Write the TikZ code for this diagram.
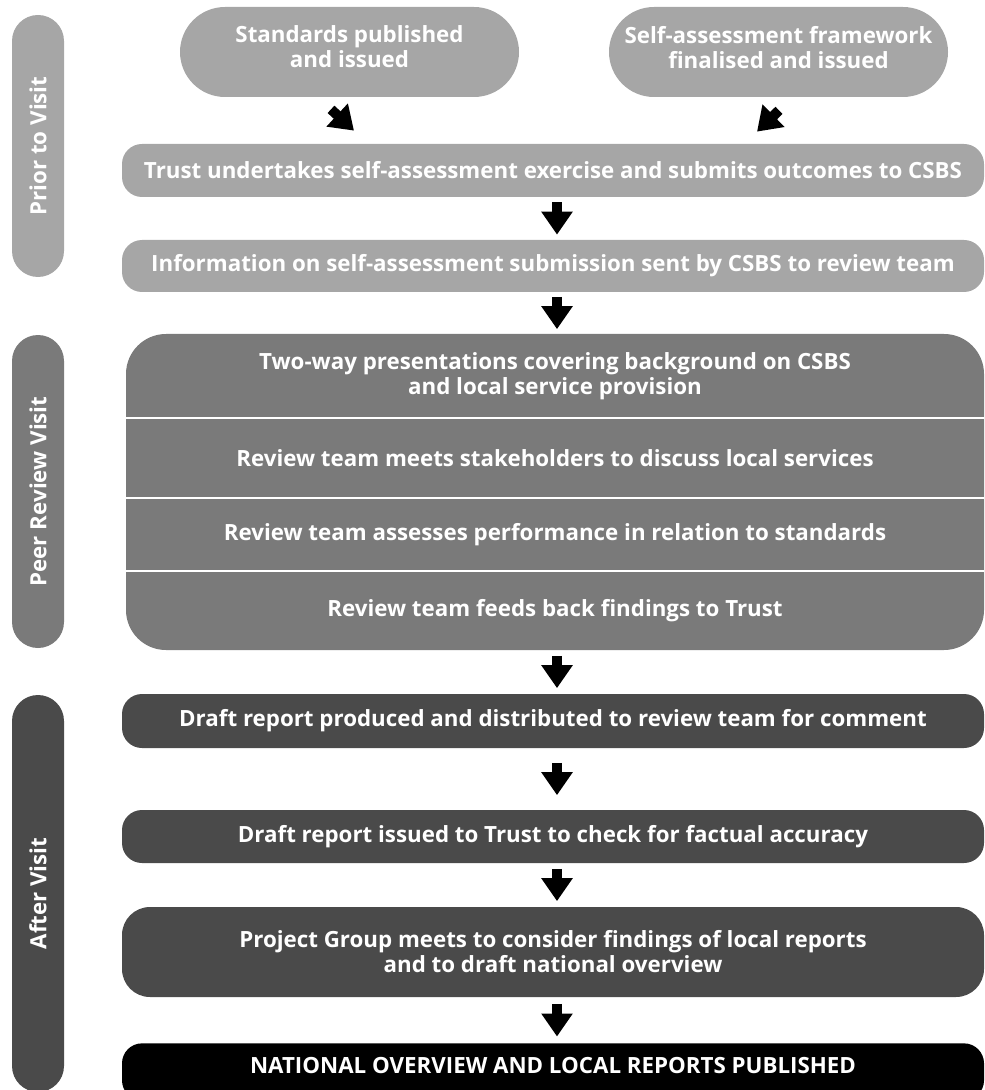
\documentclass[tikz,border=0pt]{standalone}
\usepackage{fontspec}
\setmainfont{Open Sans}
\usetikzlibrary{arrows.meta,calc}
\definecolor{prior}{HTML}{A6A6A6}
\definecolor{peer}{HTML}{7A7A7A}
\definecolor{after}{HTML}{4A4A4A}

\begin{document}
\begin{tikzpicture}[
    boxtext/.style={font=\bfseries\fontsize{12.7}{14.2}\selectfont, text=white, align=center, inner sep=0pt},
    stage/.style={boxtext, rounded corners=0.52cm, minimum height=1.04cm, rotate=90},
    box/.style={boxtext, rounded corners=0.4cm, minimum width=17.24cm},
    flow/.style={line width=0.2cm, -{Triangle[length=0.46cm,width=0.6cm]}},
    gap/.style={shorten <=#1, shorten >=#1}
  ]
    \useasboundingbox (0,0) rectangle (19.68,-21.8);
    \clip (0,0) rectangle (19.68,-21.8);

    \node[stage, fill=prior, minimum width=5.24cm] (prior) at (0.76,-2.92) {Prior to Visit};
    \node[stage, fill=peer, minimum width=6.26cm] (peerbar) at (0.76,-9.83) {Peer Review Visit};
    \node[stage, fill=after, minimum width=7.94cm] (afterbar) at (0.76,-17.87) {After Visit};

    \node[boxtext, fill=prior, rounded corners=0.9cm, minimum width=6.78cm, minimum height=1.8cm, text depth=0.2cm] (std) at (6.99,-1.04) {Standards published\\and issued};
    \node[boxtext, fill=prior, rounded corners=0.9cm, minimum width=6.78cm, minimum height=1.8cm, text depth=0.2cm] (frame) at (15.57,-1.04) {Self-assessment framework\\finalised and issued};
    \node[box, fill=prior, minimum height=1.06cm] (trust) at (11.06,-3.41) {Trust undertakes self-assessment exercise and submits outcomes to CSBS};
    \node[box, fill=prior, minimum height=1.04cm] (info) at (11.06,-5.32) {Information on self-assessment submission sent by CSBS to review team};

    \node[box, fill=peer, rounded corners=0.8cm, minimum width=17.16cm, minimum height=6.32cm] (visit) at (11.1,-9.84) {};
    \node[boxtext] (present) at (11.1,-7.52) {Two-way presentations covering background on CSBS\\and local service provision};
    \node[boxtext] (meet) at (11.1,-9.16) {Review team meets stakeholders to discuss local services};
    \node[boxtext] (assess) at (11.1,-10.69) {Review team assesses performance in relation to standards};
    \node[boxtext] (feedback) at (11.1,-12.21) {Review team feeds back findings to Trust};
    \coordinate (d1) at (0,-8.36);
    \coordinate (d2) at (0,-9.96);
    \coordinate (d3) at (0,-11.42);
    \foreach \d in {d1,d2,d3}
        \draw[white, line width=0.8pt] (visit.west |- \d) -- (visit.east |- \d);

    \node[box, fill=after, minimum height=1.08cm] (produced) at (11.06,-14.42) {Draft report produced and distributed to review team for comment};
    \node[box, fill=after, minimum height=1.06cm] (issued) at (11.06,-16.73) {Draft report issued to Trust to check for factual accuracy};
    \node[box, fill=after, rounded corners=0.56cm, minimum height=1.8cm] (project) at (11.06,-19.04) {Project Group meets to consider findings of local reports\\and to draft national overview};
    \node[box, fill=black, anchor=north, text height=0.6cm, text depth=0.54cm] (published) at (11.06,-20.86) {NATIONAL OVERVIEW AND LOCAL REPORTS PUBLISHED};

    \coordinate (axis) at (11.14,0);
    \draw[flow] ($(std.south)+(-0.37,-0.24)$) -- ($(trust.north)+(-3.98,0.26)$);
    \draw[flow] ($(frame.south)+(0.01,-0.26)$) -- ($(trust.north)+(4.08,0.24)$);
    \draw[flow, gap=0.1cm] (trust.south -| axis) -- (info.north -| axis);
    \draw[flow, gap=0.09cm] (info.south -| axis) -- (visit.north -| axis);
    \draw[flow, gap=0.11cm] (visit.south -| axis) -- (produced.north -| axis);
    \draw[flow, gap=0.29cm] (produced.south -| axis) -- (issued.north -| axis);
    \draw[flow, gap=0.11cm] (issued.south -| axis) -- (project.north -| axis);
    \draw[flow, gap=0.13cm] (project.south -| axis) -- (published.north -| axis);
\end{tikzpicture}
\end{document}
